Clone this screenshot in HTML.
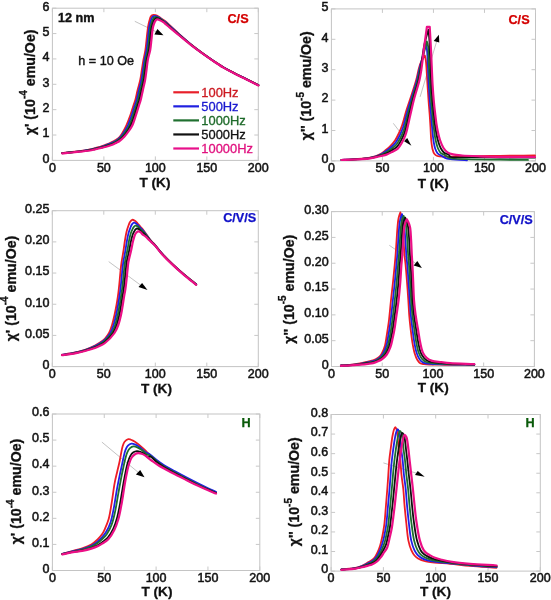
<!DOCTYPE html>
<html><head><meta charset="utf-8"><style>
html,body{margin:0;padding:0;background:#fff;}
svg{display:block;will-change:transform;filter:blur(0.3px);}
text{font-family:"Liberation Sans", sans-serif;}
.tl{font-size:12.5px;fill:#111;stroke:#111;stroke-width:0.5px;}
.ax{font-size:13.6px;font-weight:bold;fill:#111;stroke:#111;stroke-width:0.3px;}
.yl{font-size:14.2px;font-weight:bold;fill:#111;stroke:#111;stroke-width:0.3px;}
.sup{font-size:10px;}
.ann{font-size:12.6px;fill:#111;stroke:#111;stroke-width:0.4px;}
.tag{font-size:12.7px;font-weight:bold;}
.leg{font-size:12.9px;}
</style></head><body>
<svg width="551" height="600" viewBox="0 0 551 600">
<rect width="551" height="600" fill="#fff"/>
<rect x="52.4" y="8.2" width="205.9" height="152.2" fill="none" stroke="#c4c4c4" stroke-width="1"/>
<path d="M52.4 160.4v-4.0M52.4 8.2v4.0M103.88 160.4v-4.0M103.88 8.2v4.0M155.35 160.4v-4.0M155.35 8.2v4.0M206.83 160.4v-4.0M206.83 8.2v4.0M258.3 160.4v-4.0M258.3 8.2v4.0M52.4 160.4h4.0M258.3 160.4h-4.0M52.4 135.03h4.0M258.3 135.03h-4.0M52.4 109.67h4.0M258.3 109.67h-4.0M52.4 84.3h4.0M258.3 84.3h-4.0M52.4 58.93h4.0M258.3 58.93h-4.0M52.4 33.57h4.0M258.3 33.57h-4.0M52.4 8.2h4.0M258.3 8.2h-4.0" stroke="#c8c8c8" stroke-width="1" fill="none"/>
<text x="52.4" y="172.2" class="tl" text-anchor="middle">0</text>
<text x="103.88" y="172.2" class="tl" text-anchor="middle">50</text>
<text x="155.35" y="172.2" class="tl" text-anchor="middle">100</text>
<text x="206.83" y="172.2" class="tl" text-anchor="middle">150</text>
<text x="258.3" y="172.2" class="tl" text-anchor="middle">200</text>
<text x="49.5" y="162.7" class="tl" text-anchor="end">0</text>
<text x="49.5" y="137.33" class="tl" text-anchor="end">1</text>
<text x="49.5" y="111.97" class="tl" text-anchor="end">2</text>
<text x="49.5" y="86.6" class="tl" text-anchor="end">3</text>
<text x="49.5" y="61.23" class="tl" text-anchor="end">4</text>
<text x="49.5" y="35.87" class="tl" text-anchor="end">5</text>
<text x="49.5" y="10.5" class="tl" text-anchor="end">6</text>
<text x="155" y="187.4" class="ax" text-anchor="middle">T (K)</text>
<text transform="translate(34.5 82.3) rotate(-90)" class="yl" text-anchor="middle">χ' (10<tspan class="sup" dy="-7.5">-4</tspan><tspan dy="7.5"> emu/Oe)</tspan></text>
<rect x="331.4" y="8.9" width="204.1" height="152" fill="none" stroke="#c4c4c4" stroke-width="1"/>
<path d="M331.4 160.9v-4.0M331.4 8.9v4.0M382.42 160.9v-4.0M382.42 8.9v4.0M433.45 160.9v-4.0M433.45 8.9v4.0M484.48 160.9v-4.0M484.48 8.9v4.0M535.5 160.9v-4.0M535.5 8.9v4.0M331.4 160.9h4.0M535.5 160.9h-4.0M331.4 130.5h4.0M535.5 130.5h-4.0M331.4 100.1h4.0M535.5 100.1h-4.0M331.4 69.7h4.0M535.5 69.7h-4.0M331.4 39.3h4.0M535.5 39.3h-4.0M331.4 8.9h4.0M535.5 8.9h-4.0" stroke="#c8c8c8" stroke-width="1" fill="none"/>
<text x="331.4" y="171.8" class="tl" text-anchor="middle">0</text>
<text x="382.42" y="171.8" class="tl" text-anchor="middle">50</text>
<text x="433.45" y="171.8" class="tl" text-anchor="middle">100</text>
<text x="484.48" y="171.8" class="tl" text-anchor="middle">150</text>
<text x="535.5" y="171.8" class="tl" text-anchor="middle">200</text>
<text x="328.5" y="163.2" class="tl" text-anchor="end">0</text>
<text x="328.5" y="132.8" class="tl" text-anchor="end">1</text>
<text x="328.5" y="102.4" class="tl" text-anchor="end">2</text>
<text x="328.5" y="72" class="tl" text-anchor="end">3</text>
<text x="328.5" y="41.6" class="tl" text-anchor="end">4</text>
<text x="328.5" y="11.2" class="tl" text-anchor="end">5</text>
<text x="433.2" y="187.7" class="ax" text-anchor="middle">T (K)</text>
<text transform="translate(311 85.75) rotate(-90)" class="yl" text-anchor="middle">χ'' (10<tspan class="sup" dy="-7.5">-5</tspan><tspan dy="7.5"> emu/Oe)</tspan></text>
<rect x="52.3" y="210.7" width="206" height="155.9" fill="none" stroke="#c4c4c4" stroke-width="1"/>
<path d="M52.3 366.6v-4.0M52.3 210.7v4.0M103.8 366.6v-4.0M103.8 210.7v4.0M155.3 366.6v-4.0M155.3 210.7v4.0M206.8 366.6v-4.0M206.8 210.7v4.0M258.3 366.6v-4.0M258.3 210.7v4.0M52.3 366.6h4.0M258.3 366.6h-4.0M52.3 335.42h4.0M258.3 335.42h-4.0M52.3 304.24h4.0M258.3 304.24h-4.0M52.3 273.06h4.0M258.3 273.06h-4.0M52.3 241.88h4.0M258.3 241.88h-4.0M52.3 210.7h4.0M258.3 210.7h-4.0" stroke="#c8c8c8" stroke-width="1" fill="none"/>
<text x="52.3" y="378.4" class="tl" text-anchor="middle">0</text>
<text x="103.8" y="378.4" class="tl" text-anchor="middle">50</text>
<text x="155.3" y="378.4" class="tl" text-anchor="middle">100</text>
<text x="206.8" y="378.4" class="tl" text-anchor="middle">150</text>
<text x="258.3" y="378.4" class="tl" text-anchor="middle">200</text>
<text x="49.4" y="368.9" class="tl" text-anchor="end">0</text>
<text x="49.4" y="337.72" class="tl" text-anchor="end">0.05</text>
<text x="49.4" y="306.54" class="tl" text-anchor="end">0.10</text>
<text x="49.4" y="275.36" class="tl" text-anchor="end">0.15</text>
<text x="49.4" y="244.18" class="tl" text-anchor="end">0.20</text>
<text x="49.4" y="213" class="tl" text-anchor="end">0.25</text>
<text x="156.5" y="392.7" class="ax" text-anchor="middle">T (K)</text>
<text transform="translate(15.5 288.5) rotate(-90)" class="yl" text-anchor="middle">χ' (10<tspan class="sup" dy="-7.5">-4</tspan><tspan dy="7.5"> emu/Oe)</tspan></text>
<rect x="331.5" y="211.6" width="202.9" height="154.9" fill="none" stroke="#c4c4c4" stroke-width="1"/>
<path d="M331.5 366.5v-4.0M331.5 211.6v4.0M382.23 366.5v-4.0M382.23 211.6v4.0M432.95 366.5v-4.0M432.95 211.6v4.0M483.67 366.5v-4.0M483.67 211.6v4.0M534.4 366.5v-4.0M534.4 211.6v4.0M331.5 366.5h4.0M534.4 366.5h-4.0M331.5 340.68h4.0M534.4 340.68h-4.0M331.5 314.87h4.0M534.4 314.87h-4.0M331.5 289.05h4.0M534.4 289.05h-4.0M331.5 263.23h4.0M534.4 263.23h-4.0M331.5 237.42h4.0M534.4 237.42h-4.0M331.5 211.6h4.0M534.4 211.6h-4.0" stroke="#c8c8c8" stroke-width="1" fill="none"/>
<text x="331.5" y="377.6" class="tl" text-anchor="middle">0</text>
<text x="382.23" y="377.6" class="tl" text-anchor="middle">50</text>
<text x="432.95" y="377.6" class="tl" text-anchor="middle">100</text>
<text x="483.67" y="377.6" class="tl" text-anchor="middle">150</text>
<text x="534.4" y="377.6" class="tl" text-anchor="middle">200</text>
<text x="328.6" y="368.8" class="tl" text-anchor="end">0</text>
<text x="328.6" y="342.98" class="tl" text-anchor="end">0.05</text>
<text x="328.6" y="317.17" class="tl" text-anchor="end">0.10</text>
<text x="328.6" y="291.35" class="tl" text-anchor="end">0.15</text>
<text x="328.6" y="265.53" class="tl" text-anchor="end">0.20</text>
<text x="328.6" y="239.72" class="tl" text-anchor="end">0.25</text>
<text x="328.6" y="213.9" class="tl" text-anchor="end">0.30</text>
<text x="433.2" y="391.8" class="ax" text-anchor="middle">T (K)</text>
<text transform="translate(293.7 289.2) rotate(-90)" class="yl" text-anchor="middle">χ'' (10<tspan class="sup" dy="-7.5">-5</tspan><tspan dy="7.5"> emu/Oe)</tspan></text>
<rect x="52.4" y="414" width="207.4" height="156.5" fill="none" stroke="#c4c4c4" stroke-width="1"/>
<path d="M52.4 570.5v-4.0M52.4 414v4.0M104.25 570.5v-4.0M104.25 414v4.0M156.1 570.5v-4.0M156.1 414v4.0M207.95 570.5v-4.0M207.95 414v4.0M259.8 570.5v-4.0M259.8 414v4.0M52.4 570.5h4.0M259.8 570.5h-4.0M52.4 544.42h4.0M259.8 544.42h-4.0M52.4 518.33h4.0M259.8 518.33h-4.0M52.4 492.25h4.0M259.8 492.25h-4.0M52.4 466.17h4.0M259.8 466.17h-4.0M52.4 440.08h4.0M259.8 440.08h-4.0M52.4 414h4.0M259.8 414h-4.0" stroke="#c8c8c8" stroke-width="1" fill="none"/>
<text x="52.4" y="581.8" class="tl" text-anchor="middle">0</text>
<text x="104.25" y="581.8" class="tl" text-anchor="middle">50</text>
<text x="156.1" y="581.8" class="tl" text-anchor="middle">100</text>
<text x="207.95" y="581.8" class="tl" text-anchor="middle">150</text>
<text x="259.8" y="581.8" class="tl" text-anchor="middle">200</text>
<text x="49.5" y="572.8" class="tl" text-anchor="end">0</text>
<text x="49.5" y="546.72" class="tl" text-anchor="end">0.1</text>
<text x="49.5" y="520.63" class="tl" text-anchor="end">0.2</text>
<text x="49.5" y="494.55" class="tl" text-anchor="end">0.3</text>
<text x="49.5" y="468.47" class="tl" text-anchor="end">0.4</text>
<text x="49.5" y="442.38" class="tl" text-anchor="end">0.5</text>
<text x="49.5" y="416.3" class="tl" text-anchor="end">0.6</text>
<text x="157" y="596.3" class="ax" text-anchor="middle">T (K)</text>
<text transform="translate(21 491.5) rotate(-90)" class="yl" text-anchor="middle">χ' (10<tspan class="sup" dy="-7.5">-4</tspan><tspan dy="7.5"> emu/Oe)</tspan></text>
<rect x="331.1" y="414.5" width="209.2" height="156.6" fill="none" stroke="#c4c4c4" stroke-width="1"/>
<path d="M331.1 571.1v-4.0M331.1 414.5v4.0M383.4 571.1v-4.0M383.4 414.5v4.0M435.7 571.1v-4.0M435.7 414.5v4.0M488 571.1v-4.0M488 414.5v4.0M540.3 571.1v-4.0M540.3 414.5v4.0M331.1 571.1h4.0M540.3 571.1h-4.0M331.1 551.52h4.0M540.3 551.52h-4.0M331.1 531.95h4.0M540.3 531.95h-4.0M331.1 512.38h4.0M540.3 512.38h-4.0M331.1 492.8h4.0M540.3 492.8h-4.0M331.1 473.23h4.0M540.3 473.23h-4.0M331.1 453.65h4.0M540.3 453.65h-4.0M331.1 434.07h4.0M540.3 434.07h-4.0M331.1 414.5h4.0M540.3 414.5h-4.0" stroke="#c8c8c8" stroke-width="1" fill="none"/>
<text x="331.1" y="581.8" class="tl" text-anchor="middle">0</text>
<text x="383.4" y="581.8" class="tl" text-anchor="middle">50</text>
<text x="435.7" y="581.8" class="tl" text-anchor="middle">100</text>
<text x="488" y="581.8" class="tl" text-anchor="middle">150</text>
<text x="540.3" y="581.8" class="tl" text-anchor="middle">200</text>
<text x="328.2" y="573.4" class="tl" text-anchor="end">0</text>
<text x="328.2" y="553.82" class="tl" text-anchor="end">0.1</text>
<text x="328.2" y="534.25" class="tl" text-anchor="end">0.2</text>
<text x="328.2" y="514.67" class="tl" text-anchor="end">0.3</text>
<text x="328.2" y="495.1" class="tl" text-anchor="end">0.4</text>
<text x="328.2" y="475.53" class="tl" text-anchor="end">0.5</text>
<text x="328.2" y="455.95" class="tl" text-anchor="end">0.6</text>
<text x="328.2" y="436.38" class="tl" text-anchor="end">0.7</text>
<text x="328.2" y="416.8" class="tl" text-anchor="end">0.8</text>
<text x="435.5" y="595.6" class="ax" text-anchor="middle">T (K)</text>
<text transform="translate(299 491.75) rotate(-90)" class="yl" text-anchor="middle">χ'' (10<tspan class="sup" dy="-7.5">-5</tspan><tspan dy="7.5"> emu/Oe)</tspan></text>
<text x="58" y="22.3" class="ann" font-weight="bold">12 nm</text>
<text x="78.3" y="64.6" class="ann">h = 10 Oe</text>
<text x="248.6" y="23.4" class="tag" fill="#d40000" stroke="#d40000" stroke-width="0.25" text-anchor="end">C/S</text>
<text x="529.6" y="23.5" class="tag" fill="#d40000" stroke="#d40000" stroke-width="0.25" text-anchor="end">C/S</text>
<text x="256.3" y="222.4" class="tag" fill="#1010c8" stroke="#1010c8" stroke-width="0.25" text-anchor="end">C/V/S</text>
<text x="532.8" y="224.3" class="tag" fill="#1010c8" stroke="#1010c8" stroke-width="0.25" text-anchor="end">C/V/S</text>
<text x="250.6" y="427" class="tag" fill="#0a5a0a" stroke="#0a5a0a" stroke-width="0.25" text-anchor="end">H</text>
<text x="534.6" y="427.2" class="tag" fill="#0a5a0a" stroke="#0a5a0a" stroke-width="0.25" text-anchor="end">H</text>
<path d="M173.3 92.3H199" stroke="#e8202a" stroke-width="2.2"/>
<text x="201.3" y="96.9" class="leg" fill="#cc1a22" stroke="#cc1a22" stroke-width="0.3">100Hz</text>
<path d="M173.3 106.35H199" stroke="#2020e0" stroke-width="2.2"/>
<text x="201.3" y="110.95" class="leg" fill="#1a1ad0" stroke="#1a1ad0" stroke-width="0.3">500Hz</text>
<path d="M173.3 120.4H199" stroke="#207030" stroke-width="2.2"/>
<text x="201.3" y="125" class="leg" fill="#1e6a2a" stroke="#1e6a2a" stroke-width="0.3">1000Hz</text>
<path d="M173.3 134.45H199" stroke="#111111" stroke-width="2.2"/>
<text x="201.3" y="139.05" class="leg" fill="#111111" stroke="#111111" stroke-width="0.3">5000Hz</text>
<path d="M173.3 148.5H199" stroke="#e8108a" stroke-width="2.2"/>
<text x="201.3" y="153.1" class="leg" fill="#e0107e" stroke="#e0107e" stroke-width="0.3">10000Hz</text>
<path d="M134.8 21.3L157.2 32.3" stroke="#b4b4b4" stroke-width="0.8" fill="none"/>
<path d="M420.1 96.9L436.9 40.6" stroke="#b4b4b4" stroke-width="0.8" fill="none"/>
<path d="M393.3 123.3L406.6 140.7" stroke="#b4b4b4" stroke-width="0.8" fill="none"/>
<path d="M108.7 261.6L141.5 285.8" stroke="#b4b4b4" stroke-width="0.8" fill="none"/>
<path d="M389.3 245.3L416.6 264.0" stroke="#b4b4b4" stroke-width="0.8" fill="none"/>
<path d="M101.9 442.1L139.1 473.1" stroke="#b4b4b4" stroke-width="0.8" fill="none"/>
<path d="M383.4 462.9L417.7 473.6" stroke="#b4b4b4" stroke-width="0.8" fill="none"/>
<path d="M62.20 153.00C65.47 152.67 68.66 152.39 72.00 152.00C75.49 151.59 79.48 151.10 82.70 150.60C85.37 150.19 87.80 149.76 90.00 149.30C91.83 148.92 93.33 148.50 95.00 148.10C96.67 147.70 98.28 147.42 100.00 146.90C101.90 146.32 104.12 145.40 105.90 144.70C107.40 144.11 108.65 143.62 110.00 143.00C111.35 142.38 112.83 141.62 114.00 141.00C114.94 140.50 115.66 140.19 116.50 139.60C117.49 138.90 118.63 137.92 119.50 137.00C120.31 136.15 120.93 135.30 121.60 134.30C122.34 133.19 122.97 131.97 123.70 130.60C124.59 128.94 125.54 127.16 126.50 125.00C127.76 122.17 129.21 118.35 130.40 115.00C131.58 111.68 132.69 107.76 133.60 105.00C134.25 103.04 134.74 101.97 135.30 100.00C136.08 97.25 136.78 93.33 137.60 90.00C138.42 86.66 139.50 83.35 140.20 80.00C140.89 76.68 141.27 73.33 141.80 70.00C142.33 66.67 142.80 63.33 143.40 60.00C144.00 56.66 144.88 53.34 145.40 50.00C145.91 46.68 146.13 43.33 146.50 40.00C146.87 36.67 147.20 32.91 147.60 30.00C147.91 27.74 148.23 25.79 148.60 24.00C148.91 22.53 149.23 21.25 149.60 20.00C149.94 18.87 150.22 17.63 150.70 16.80C151.07 16.16 151.49 15.63 152.00 15.30C152.47 14.99 153.04 14.84 153.60 14.80C154.20 14.76 154.81 14.89 155.50 15.10C156.40 15.38 157.49 15.90 158.50 16.50C159.66 17.19 160.78 18.24 162.00 19.10C163.28 20.01 164.64 20.71 166.00 21.80C167.62 23.10 169.09 24.72 171.00 26.50C173.56 28.88 176.77 31.92 180.00 34.80C183.64 38.05 187.96 41.88 191.80 45.00C195.28 47.83 198.54 50.27 202.00 52.80C205.47 55.34 209.07 57.81 212.60 60.20C216.07 62.54 219.48 64.91 223.00 67.00C226.45 69.04 229.83 70.71 233.50 72.60C237.47 74.64 241.84 76.73 246.00 78.80C250.14 80.86 254.27 82.93 258.40 85.00" stroke="#ee1c25" stroke-width="1.8" fill="none" stroke-linejoin="round" stroke-linecap="round"/><path d="M62.20 153.07C65.47 152.76 68.66 152.50 72.00 152.12C75.49 151.74 79.48 151.24 82.70 150.78C85.37 150.39 87.80 150.03 90.00 149.60C91.83 149.24 93.33 148.82 95.00 148.43C96.67 148.03 98.28 147.75 100.00 147.25C101.90 146.70 104.12 145.85 105.90 145.20C107.40 144.65 108.65 144.20 110.00 143.62C111.35 143.05 112.83 142.34 114.00 141.75C114.94 141.27 115.65 140.94 116.50 140.38C117.48 139.72 118.55 138.89 119.50 138.00C120.50 137.06 121.43 136.03 122.32 134.85C123.32 133.54 124.24 132.02 125.15 130.45C126.14 128.75 127.05 127.12 128.00 125.00C129.26 122.20 130.63 118.35 131.80 115.00C132.96 111.68 134.08 107.76 134.97 105.00C135.61 103.04 136.10 101.97 136.65 100.00C137.42 97.25 138.13 93.33 138.93 90.00C139.72 86.66 140.75 83.35 141.42 80.00C142.10 76.68 142.46 73.33 142.98 70.00C143.49 66.67 143.90 63.32 144.50 60.00C145.11 56.66 146.06 53.35 146.60 50.00C147.13 46.68 147.35 43.33 147.72 40.00C148.10 36.67 148.42 32.83 148.82 30.00C149.12 27.89 149.40 26.18 149.78 24.50C150.10 23.05 150.48 21.71 150.88 20.50C151.22 19.46 151.52 18.38 151.97 17.65C152.32 17.09 152.71 16.64 153.18 16.35C153.60 16.09 154.08 15.94 154.60 15.93C155.21 15.90 155.90 16.12 156.62 16.38C157.57 16.71 158.71 17.29 159.72 17.93C160.83 18.62 161.87 19.60 163.00 20.43C164.17 21.28 165.39 21.98 166.62 22.98C168.05 24.13 169.27 25.45 171.00 27.02C173.46 29.26 176.78 32.28 180.00 35.10C183.65 38.29 187.97 42.07 191.80 45.15C195.28 47.95 198.54 50.38 202.00 52.90C205.47 55.43 209.07 57.91 212.60 60.30C216.07 62.64 219.48 65.01 223.00 67.10C226.45 69.14 229.83 70.81 233.50 72.70C237.47 74.74 241.84 76.83 246.00 78.90C250.14 80.96 254.27 83.03 258.40 85.10" stroke="#1f1fe6" stroke-width="1.8" fill="none" stroke-linejoin="round" stroke-linecap="round"/><path d="M62.20 153.15C65.47 152.85 68.66 152.61 72.00 152.25C75.49 151.88 79.48 151.38 82.70 150.95C85.37 150.60 87.80 150.31 90.00 149.90C91.83 149.56 93.33 149.13 95.00 148.75C96.67 148.37 98.27 148.08 100.00 147.60C101.90 147.08 104.12 146.30 105.90 145.70C107.39 145.20 108.65 144.78 110.00 144.25C111.35 143.72 112.83 143.07 114.00 142.50C114.94 142.04 115.65 141.68 116.50 141.15C117.47 140.54 118.49 139.86 119.50 139.00C120.68 137.99 121.92 136.76 123.05 135.40C124.30 133.89 125.52 132.05 126.60 130.30C127.67 128.58 128.55 127.09 129.50 125.00C130.76 122.23 132.05 118.35 133.20 115.00C134.34 111.68 135.46 107.76 136.35 105.00C136.98 103.04 137.46 101.97 138.00 100.00C138.76 97.25 139.48 93.33 140.25 90.00C141.03 86.66 142.00 83.35 142.65 80.00C143.30 76.68 143.66 73.33 144.15 70.00C144.64 66.67 144.99 63.32 145.60 60.00C146.21 56.66 147.24 53.35 147.80 50.00C148.35 46.68 148.57 43.33 148.95 40.00C149.32 36.67 149.65 32.76 150.05 30.00C150.33 28.04 150.58 26.56 150.95 25.00C151.29 23.58 151.72 22.17 152.15 21.00C152.50 20.06 152.82 19.14 153.25 18.50C153.58 18.02 153.94 17.64 154.35 17.40C154.73 17.18 155.13 17.05 155.60 17.05C156.22 17.05 156.98 17.34 157.75 17.65C158.73 18.04 159.92 18.68 160.95 19.35C162.01 20.04 162.96 20.96 164.00 21.75C165.06 22.56 166.15 23.25 167.25 24.15C168.48 25.16 169.47 26.19 171.00 27.55C173.35 29.64 176.78 32.65 180.00 35.40C183.65 38.53 187.97 42.25 191.80 45.30C195.29 48.08 198.54 50.49 202.00 53.00C205.48 55.52 209.07 58.01 212.60 60.40C216.07 62.74 219.48 65.11 223.00 67.20C226.45 69.24 229.83 70.91 233.50 72.80C237.47 74.84 241.84 76.93 246.00 79.00C250.14 81.06 254.27 83.13 258.40 85.20" stroke="#1d6f2d" stroke-width="1.8" fill="none" stroke-linejoin="round" stroke-linecap="round"/><path d="M62.20 153.23C65.47 152.94 68.66 152.71 72.00 152.38C75.49 152.02 79.47 151.52 82.70 151.12C85.37 150.80 87.80 150.59 90.00 150.20C91.83 149.88 93.33 149.45 95.00 149.07C96.67 148.70 98.27 148.40 100.00 147.95C101.89 147.46 104.11 146.75 105.90 146.20C107.39 145.74 108.65 145.37 110.00 144.88C111.35 144.38 112.83 143.79 114.00 143.25C114.94 142.81 115.64 142.43 116.50 141.92C117.47 141.36 118.45 140.82 119.50 140.00C120.85 138.95 122.41 137.49 123.78 135.95C125.28 134.25 126.80 132.06 128.05 130.15C129.18 128.42 130.05 127.05 131.00 125.00C132.27 122.26 133.48 118.35 134.60 115.00C135.72 111.68 136.85 107.76 137.72 105.00C138.35 103.05 138.81 101.97 139.35 100.00C140.10 97.25 140.82 93.33 141.57 90.00C142.33 86.67 143.25 83.35 143.88 80.00C144.50 76.68 144.85 73.33 145.32 70.00C145.80 66.67 146.09 63.32 146.70 60.00C147.31 56.65 148.42 53.35 149.00 50.00C149.57 46.68 149.80 43.33 150.18 40.00C150.55 36.67 150.88 32.67 151.28 30.00C151.54 28.20 151.76 26.94 152.12 25.50C152.48 24.12 152.96 22.61 153.42 21.50C153.78 20.66 154.11 19.89 154.53 19.35C154.83 18.95 155.16 18.65 155.52 18.45C155.86 18.27 156.18 18.16 156.60 18.18C157.22 18.20 158.06 18.57 158.88 18.93C159.89 19.37 161.15 20.08 162.18 20.77C163.18 21.46 164.05 22.32 165.00 23.07C165.95 23.83 166.91 24.52 167.88 25.32C168.91 26.18 169.68 26.94 171.00 28.08C173.22 29.99 176.79 33.01 180.00 35.70C183.66 38.76 187.98 42.44 191.80 45.45C195.29 48.20 198.55 50.60 202.00 53.10C205.48 55.62 209.07 58.11 212.60 60.50C216.07 62.84 219.48 65.21 223.00 67.30C226.45 69.34 229.83 71.01 233.50 72.90C237.47 74.94 241.84 77.03 246.00 79.10C250.14 81.16 254.27 83.23 258.40 85.30" stroke="#101010" stroke-width="1.8" fill="none" stroke-linejoin="round" stroke-linecap="round"/><path d="M62.20 153.30C65.47 153.03 68.66 152.82 72.00 152.50C75.49 152.16 79.47 151.66 82.70 151.30C85.37 151.00 87.80 150.86 90.00 150.50C91.83 150.20 93.33 149.77 95.00 149.40C96.67 149.03 98.27 148.72 100.00 148.30C101.89 147.84 104.11 147.20 105.90 146.70C107.39 146.28 108.65 145.95 110.00 145.50C111.35 145.05 112.84 144.52 114.00 144.00C114.95 143.58 115.63 143.17 116.50 142.70C117.46 142.18 118.42 141.78 119.50 141.00C121.01 139.91 122.91 138.22 124.50 136.50C126.26 134.60 128.09 132.06 129.50 130.00C130.69 128.26 131.56 127.01 132.50 125.00C133.77 122.29 134.90 118.34 136.00 115.00C137.10 111.68 138.23 107.76 139.10 105.00C139.72 103.05 140.17 101.97 140.70 100.00C141.44 97.25 142.17 93.33 142.90 90.00C143.63 86.67 144.50 83.35 145.10 80.00C145.70 76.68 146.05 73.33 146.50 70.00C146.95 66.67 147.19 63.32 147.80 60.00C148.42 56.65 149.60 53.35 150.20 50.00C150.79 46.68 151.02 43.33 151.40 40.00C151.78 36.67 152.10 32.58 152.50 30.00C152.75 28.36 152.94 27.32 153.30 26.00C153.67 24.65 154.20 23.05 154.70 22.00C155.05 21.26 155.41 20.64 155.80 20.20C156.09 19.88 156.38 19.65 156.70 19.50C156.99 19.37 157.23 19.27 157.60 19.30C158.21 19.34 159.15 19.79 160.00 20.20C161.06 20.70 162.37 21.47 163.40 22.20C164.36 22.88 165.14 23.68 166.00 24.40C166.84 25.11 167.67 25.80 168.50 26.50C169.33 27.20 169.91 27.69 171.00 28.60C173.07 30.32 176.79 33.38 180.00 36.00C183.66 39.00 187.98 42.62 191.80 45.60C195.29 48.32 198.55 50.71 202.00 53.20C205.48 55.71 209.07 58.21 212.60 60.60C216.07 62.94 219.48 65.31 223.00 67.40C226.45 69.44 229.83 71.11 233.50 73.00C237.47 75.04 241.84 77.13 246.00 79.20C250.14 81.26 254.27 83.33 258.40 85.40" stroke="#ec0f86" stroke-width="2.2" fill="none" stroke-linejoin="round" stroke-linecap="round"/>
<path d="M341.50 159.80C345.00 159.67 348.54 159.59 352.00 159.40C355.38 159.22 358.86 159.03 362.00 158.70C364.82 158.41 367.54 158.10 370.00 157.60C372.16 157.17 374.12 156.66 376.00 156.00C377.77 155.38 379.48 154.72 381.00 153.80C382.47 152.91 383.60 151.76 385.00 150.60C386.58 149.29 388.39 147.92 390.00 146.30C391.74 144.55 393.52 142.56 395.00 140.40C396.54 138.15 397.81 135.55 399.00 133.00C400.21 130.42 401.13 128.11 402.20 125.00C403.63 120.81 404.96 114.98 406.50 110.00C408.05 104.98 409.88 100.01 411.50 95.00C413.11 90.01 414.91 84.74 416.20 80.00C417.35 75.80 417.99 71.44 419.00 68.00C419.79 65.33 420.49 63.16 421.50 61.00C422.45 58.98 424.80 55.40 424.80 55.40C424.80 55.40 425.53 58.16 425.80 60.00C426.20 62.68 426.34 66.33 426.60 70.00C426.91 74.49 427.18 80.00 427.50 85.00C427.82 90.00 428.13 95.00 428.50 100.00C428.87 105.00 429.36 110.23 429.70 115.00C430.01 119.36 430.25 123.33 430.50 127.50C430.75 131.67 430.82 136.18 431.20 140.00C431.53 143.25 431.86 146.50 432.50 149.00C432.98 150.88 433.39 152.60 434.30 153.80C435.08 154.82 435.98 155.51 437.30 156.00C439.20 156.71 441.77 156.50 445.00 156.60C450.45 156.77 458.93 156.42 467.00 156.30C476.89 156.16 488.84 155.93 500.00 155.80C511.49 155.66 523.33 155.60 535.00 155.50" stroke="#ee1c25" stroke-width="1.8" fill="none" stroke-linejoin="round" stroke-linecap="round"/><path d="M341.50 159.85C345.00 159.73 348.54 159.65 352.00 159.47C355.38 159.30 358.86 159.11 362.00 158.80C364.82 158.52 367.54 158.23 370.00 157.78C372.16 157.37 374.11 156.90 376.00 156.30C377.76 155.74 379.42 155.14 381.00 154.35C382.55 153.57 383.88 152.63 385.38 151.60C387.04 150.45 388.84 149.18 390.50 147.73C392.29 146.16 394.18 144.45 395.70 142.45C397.29 140.35 398.54 137.84 399.75 135.38C400.99 132.86 401.95 130.64 403.02 127.50C404.53 123.09 405.91 116.55 407.45 111.25C408.93 106.14 410.51 101.35 412.07 96.25C413.70 90.94 415.72 84.97 417.02 80.00C418.11 75.86 418.58 72.67 419.57 68.50C420.77 63.49 422.66 56.55 423.80 52.00C424.60 48.80 425.80 43.80 425.80 43.80C425.80 43.80 426.71 47.68 427.00 50.00C427.37 52.93 427.38 55.92 427.60 60.00C427.95 66.46 428.36 77.73 428.77 85.00C429.10 90.64 429.41 95.00 429.80 100.00C430.19 105.00 430.70 110.23 431.10 115.00C431.47 119.36 431.74 123.34 432.12 127.50C432.51 131.67 432.81 136.22 433.40 140.00C433.90 143.19 434.40 146.33 435.25 148.75C435.90 150.60 436.52 152.26 437.60 153.43C438.57 154.47 439.86 154.84 441.23 155.60C442.91 156.54 444.61 157.90 447.00 158.60C450.39 159.60 456.33 159.47 460.00 159.80C462.69 160.04 464.67 160.20 467.00 160.40" stroke="#1f1fe6" stroke-width="1.8" fill="none" stroke-linejoin="round" stroke-linecap="round"/><path d="M341.50 159.90C345.00 159.78 348.54 159.72 352.00 159.55C355.38 159.38 358.86 159.19 362.00 158.90C364.82 158.64 367.53 158.37 370.00 157.95C372.15 157.58 374.10 157.13 376.00 156.60C377.76 156.11 379.37 155.57 381.00 154.90C382.62 154.23 384.16 153.50 385.75 152.60C387.49 151.61 389.28 150.45 391.00 149.15C392.83 147.77 394.84 146.34 396.40 144.50C398.04 142.57 399.27 140.12 400.50 137.75C401.77 135.30 402.77 133.15 403.85 130.00C405.44 125.39 406.88 118.10 408.40 112.50C409.81 107.30 411.14 102.69 412.65 97.50C414.28 91.89 416.54 85.18 417.85 80.00C418.88 75.93 419.23 73.16 420.15 69.00C421.36 63.52 423.36 55.11 424.60 50.00C425.44 46.54 426.80 41.30 426.80 41.30C426.80 41.30 427.88 44.69 428.20 47.00C428.67 50.43 428.38 54.97 428.60 60.00C428.91 66.98 429.58 77.73 430.05 85.00C430.41 90.64 430.69 95.00 431.10 100.00C431.51 105.00 432.04 110.23 432.50 115.00C432.92 119.36 433.23 123.34 433.75 127.50C434.27 131.67 434.80 136.26 435.60 140.00C436.27 143.13 436.95 146.17 438.00 148.50C438.82 150.32 439.65 151.92 440.90 153.05C442.07 154.11 443.70 154.41 445.15 155.20C446.72 156.05 447.79 157.32 450.00 158.00C453.86 159.18 460.40 158.92 467.00 159.20C476.19 159.59 489.45 159.58 500.00 159.70C509.72 159.81 518.67 159.83 528.00 159.90" stroke="#1d6f2d" stroke-width="1.8" fill="none" stroke-linejoin="round" stroke-linecap="round"/><path d="M341.50 159.95C345.00 159.84 348.54 159.79 352.00 159.62C355.38 159.47 358.86 159.27 362.00 159.00C364.82 158.76 367.53 158.51 370.00 158.12C372.15 157.79 374.10 157.37 376.00 156.90C377.75 156.47 379.33 155.99 381.00 155.45C382.71 154.90 384.43 154.38 386.12 153.60C387.93 152.77 389.72 151.71 391.50 150.57C393.38 149.37 395.50 148.23 397.10 146.55C398.78 144.78 400.01 142.41 401.25 140.12C402.55 137.74 403.58 135.66 404.68 132.50C406.34 127.69 407.85 119.65 409.35 113.75C410.69 108.47 411.78 104.02 413.23 98.75C414.85 92.84 417.37 85.38 418.68 80.00C419.64 76.02 420.00 73.74 420.73 69.50C421.82 63.05 422.80 52.18 424.30 45.00C425.50 39.23 428.50 29.60 428.50 29.60C428.50 29.60 429.16 36.21 429.40 40.00C429.69 44.54 429.75 49.14 430.00 55.00C430.35 63.28 430.85 76.72 431.33 85.00C431.66 90.86 431.97 95.00 432.40 100.00C432.83 105.00 433.38 110.23 433.90 115.00C434.38 119.36 434.73 123.35 435.38 127.50C436.03 131.68 436.79 136.30 437.80 140.00C438.64 143.07 439.51 146.00 440.75 148.25C441.74 150.05 442.79 151.58 444.20 152.68C445.58 153.74 448.15 153.89 449.07 154.80C449.67 155.38 449.23 156.30 450.00 156.80C452.13 158.20 460.40 157.09 467.00 157.20C476.19 157.35 488.84 157.43 500.00 157.50C511.49 157.57 523.33 157.57 535.00 157.60" stroke="#101010" stroke-width="1.8" fill="none" stroke-linejoin="round" stroke-linecap="round"/><path d="M341.50 160.00C345.00 159.90 348.54 159.85 352.00 159.70C355.38 159.55 358.85 159.35 362.00 159.10C364.82 158.87 367.53 158.65 370.00 158.30C372.15 158.00 374.10 157.60 376.00 157.20C377.75 156.83 379.30 156.42 381.00 156.00C382.79 155.56 384.70 155.25 386.50 154.60C388.37 153.93 390.16 152.97 392.00 152.00C393.93 150.98 396.16 150.13 397.80 148.60C399.52 147.00 400.74 144.69 402.00 142.50C403.33 140.18 404.39 138.17 405.50 135.00C407.25 130.00 408.84 121.19 410.30 115.00C411.57 109.64 412.42 105.34 413.80 100.00C415.41 93.79 418.21 85.55 419.50 80.00C420.40 76.12 420.70 73.91 421.30 70.00C422.14 64.49 422.91 56.91 423.80 50.00C424.76 42.55 426.90 26.80 426.90 26.80C426.90 26.80 429.70 26.80 429.70 26.80C429.70 26.80 430.57 41.47 431.00 50.00C431.53 60.47 432.05 75.77 432.60 85.00C432.96 91.05 433.25 95.00 433.70 100.00C434.15 105.00 434.72 110.23 435.30 115.00C435.83 119.36 436.22 123.35 437.00 127.50C437.79 131.69 438.77 136.34 440.00 140.00C441.01 143.01 442.08 145.84 443.50 148.00C444.66 149.77 445.92 151.23 447.50 152.30C449.08 153.37 450.91 153.88 453.00 154.40C455.60 155.04 458.48 155.21 462.00 155.50C466.96 155.91 473.51 156.09 480.00 156.30C487.65 156.55 496.29 156.68 505.00 156.80C514.54 156.93 525.00 156.93 535.00 157.00" stroke="#ec0f86" stroke-width="2.2" fill="none" stroke-linejoin="round" stroke-linecap="round"/>
<path d="M62.00 354.70C64.67 354.30 67.41 353.98 70.00 353.50C72.47 353.04 74.76 352.50 77.20 351.90C79.75 351.27 82.27 350.75 85.00 349.80C88.16 348.70 92.28 346.89 95.00 345.50C96.99 344.48 98.37 343.63 100.00 342.50C101.71 341.31 103.52 340.05 105.00 338.50C106.53 336.90 107.87 335.09 109.00 333.00C110.26 330.66 111.11 327.84 112.00 325.00C112.97 321.88 113.75 318.34 114.50 315.00C115.25 311.68 115.93 308.15 116.50 305.00C117.01 302.19 117.42 299.67 117.80 297.00C118.18 294.34 118.49 291.75 118.80 289.00C119.13 286.09 119.41 283.08 119.70 280.00C120.01 276.76 120.26 273.14 120.60 270.00C120.90 267.18 121.17 264.93 121.60 262.00C122.12 258.40 123.01 253.82 123.60 250.00C124.13 246.52 124.49 243.14 125.00 240.00C125.46 237.18 125.90 234.46 126.50 232.00C127.02 229.84 127.66 227.78 128.30 226.00C128.84 224.52 129.27 223.08 130.00 222.00C130.62 221.09 131.39 220.00 132.20 219.80C132.91 219.62 133.73 220.06 134.50 220.50C135.50 221.08 136.53 222.29 137.50 223.30C138.53 224.38 139.50 225.63 140.50 226.80C141.50 227.97 142.32 228.79 143.50 230.30C145.47 232.81 148.70 238.07 150.90 240.70C152.39 242.48 153.50 243.23 155.00 244.90C157.03 247.16 159.19 250.30 161.80 253.20C164.94 256.68 169.01 260.70 172.70 264.20C176.28 267.59 179.80 270.67 183.60 273.90C187.61 277.30 192.00 280.70 196.20 284.10" stroke="#ee1c25" stroke-width="1.8" fill="none" stroke-linejoin="round" stroke-linecap="round"/><path d="M62.00 354.82C64.67 354.44 67.41 354.13 70.00 353.68C72.47 353.24 74.76 352.73 77.20 352.15C79.76 351.54 82.27 351.00 85.00 350.10C88.16 349.06 92.27 347.42 95.00 346.12C96.99 345.18 98.37 344.38 100.00 343.32C101.70 342.22 103.40 341.16 105.00 339.62C106.88 337.83 108.95 335.43 110.38 333.00C111.81 330.56 112.65 327.85 113.58 325.00C114.59 321.88 115.38 318.34 116.12 315.00C116.87 311.68 117.50 308.15 118.06 305.00C118.56 302.19 118.95 299.67 119.35 297.00C119.75 294.34 120.12 291.75 120.45 289.00C120.80 286.09 121.10 283.08 121.40 280.00C121.72 276.76 121.99 273.15 122.32 270.00C122.63 267.18 122.85 264.93 123.30 262.00C123.85 258.40 124.85 253.82 125.50 250.00C126.09 246.52 126.50 243.09 127.08 240.00C127.58 237.31 128.07 234.72 128.70 232.50C129.22 230.66 129.83 229.00 130.43 227.55C130.91 226.37 131.30 225.24 131.93 224.40C132.46 223.68 133.10 222.85 133.80 222.70C134.47 222.56 135.27 222.99 136.00 223.43C136.93 223.98 137.82 225.12 138.75 226.05C139.74 227.04 140.77 228.13 141.75 229.20C142.73 230.27 143.50 231.08 144.62 232.45C146.40 234.63 149.22 238.89 151.18 241.17C152.56 242.79 153.58 243.49 155.00 245.07C156.99 247.29 159.19 250.48 161.80 253.38C164.94 256.85 169.01 260.88 172.70 264.38C176.28 267.77 179.80 270.85 183.60 274.07C187.61 277.48 192.00 280.88 196.20 284.28" stroke="#1f1fe6" stroke-width="1.8" fill="none" stroke-linejoin="round" stroke-linecap="round"/><path d="M62.00 354.95C64.67 354.58 67.41 354.29 70.00 353.85C72.47 353.43 74.76 352.96 77.20 352.40C79.76 351.82 82.26 351.25 85.00 350.40C88.15 349.42 92.27 347.95 95.00 346.75C96.99 345.88 98.36 345.13 100.00 344.15C101.70 343.14 103.31 342.25 105.00 340.75C107.21 338.79 110.03 335.75 111.75 333.00C113.33 330.47 114.18 327.85 115.15 325.00C116.21 321.89 117.00 318.35 117.75 315.00C118.49 311.68 119.08 308.15 119.62 305.00C120.11 302.19 120.49 299.67 120.90 297.00C121.31 294.33 121.74 291.75 122.10 289.00C122.48 286.09 122.78 283.08 123.10 280.00C123.43 276.76 123.71 273.15 124.05 270.00C124.35 267.18 124.53 264.93 125.00 262.00C125.57 258.39 126.68 253.82 127.40 250.00C128.05 246.52 128.51 243.03 129.15 240.00C129.69 237.45 130.24 234.97 130.90 233.00C131.41 231.49 132.00 230.22 132.55 229.10C132.98 228.22 133.33 227.40 133.85 226.80C134.30 226.28 134.82 225.69 135.40 225.60C136.02 225.50 136.82 225.92 137.50 226.35C138.36 226.89 139.12 227.96 140.00 228.80C140.95 229.71 142.04 230.63 143.00 231.60C143.96 232.56 144.69 233.37 145.75 234.60C147.33 236.44 149.73 239.73 151.45 241.65C152.73 243.09 153.67 243.77 155.00 245.25C156.94 247.41 159.19 250.65 161.80 253.55C164.94 257.03 169.01 261.05 172.70 264.55C176.28 267.94 179.80 271.02 183.60 274.25C187.61 277.65 192.00 281.05 196.20 284.45" stroke="#1d6f2d" stroke-width="1.8" fill="none" stroke-linejoin="round" stroke-linecap="round"/><path d="M62.00 355.07C64.67 354.73 67.41 354.44 70.00 354.02C72.47 353.63 74.76 353.19 77.20 352.65C79.76 352.09 82.25 351.50 85.00 350.70C88.14 349.79 92.27 348.48 95.00 347.38C96.98 346.57 98.36 345.88 100.00 344.98C101.69 344.05 103.24 343.33 105.00 341.88C107.52 339.79 111.12 336.05 113.12 333.00C114.84 330.40 115.71 327.86 116.72 325.00C117.83 321.89 118.63 318.35 119.38 315.00C120.11 311.68 120.65 308.15 121.19 305.00C121.66 302.19 122.02 299.67 122.45 297.00C122.88 294.33 123.37 291.75 123.75 289.00C124.16 286.09 124.47 283.08 124.80 280.00C125.15 276.76 125.44 273.15 125.78 270.00C126.08 267.18 126.22 264.92 126.70 262.00C127.30 258.39 128.52 253.82 129.30 250.00C130.01 246.52 130.51 242.96 131.23 240.00C131.80 237.59 132.40 235.20 133.10 233.50C133.59 232.32 134.17 231.43 134.68 230.65C135.05 230.07 135.36 229.57 135.77 229.20C136.14 228.88 136.53 228.54 137.00 228.50C137.58 228.46 138.36 228.85 139.00 229.27C139.79 229.79 140.42 230.80 141.25 231.55C142.16 232.38 143.31 233.13 144.25 234.00C145.18 234.86 145.88 235.67 146.88 236.75C148.25 238.24 150.25 240.57 151.72 242.12C152.91 243.37 153.75 244.04 155.00 245.43C156.90 247.53 159.19 250.83 161.80 253.72C164.94 257.20 169.01 261.23 172.70 264.72C176.28 268.12 179.80 271.20 183.60 274.43C187.61 277.83 192.00 281.23 196.20 284.62" stroke="#101010" stroke-width="1.8" fill="none" stroke-linejoin="round" stroke-linecap="round"/><path d="M62.00 355.20C64.67 354.87 67.41 354.60 70.00 354.20C72.47 353.82 74.76 353.42 77.20 352.90C79.76 352.36 82.25 351.75 85.00 351.00C88.14 350.15 92.26 349.01 95.00 348.00C96.98 347.27 98.35 346.62 100.00 345.80C101.69 344.96 103.19 344.41 105.00 343.00C107.81 340.81 112.21 336.33 114.50 333.00C116.33 330.33 117.24 327.87 118.30 325.00C119.44 321.90 120.26 318.35 121.00 315.00C121.74 311.68 122.23 308.15 122.75 305.00C123.22 302.19 123.56 299.66 124.00 297.00C124.44 294.33 124.99 291.75 125.40 289.00C125.83 286.09 126.16 283.08 126.50 280.00C126.86 276.76 127.17 273.15 127.50 270.00C127.80 267.18 127.90 264.92 128.40 262.00C129.02 258.39 130.35 253.82 131.20 250.00C131.97 246.52 132.52 242.89 133.30 240.00C133.92 237.73 134.54 235.37 135.30 234.00C135.76 233.17 136.33 232.62 136.80 232.20C137.12 231.92 137.39 231.73 137.70 231.60C137.99 231.48 138.25 231.37 138.60 231.40C139.12 231.45 139.90 231.79 140.50 232.20C141.21 232.69 141.73 233.64 142.50 234.30C143.37 235.05 144.58 235.63 145.50 236.40C146.41 237.16 147.06 238.00 148.00 238.90C149.17 240.02 150.77 241.42 152.00 242.60C153.08 243.64 153.84 244.31 155.00 245.60C156.85 247.64 159.19 251.00 161.80 253.90C164.94 257.38 169.01 261.40 172.70 264.90C176.28 268.29 179.80 271.37 183.60 274.60C187.61 278.00 192.00 281.40 196.20 284.80" stroke="#ec0f86" stroke-width="2.2" fill="none" stroke-linejoin="round" stroke-linecap="round"/>
<path d="M340.90 365.40C343.93 365.23 346.90 365.20 350.00 364.90C353.26 364.58 356.87 364.09 360.00 363.50C362.83 362.97 365.63 362.16 368.00 361.60C369.89 361.15 371.48 360.99 373.10 360.40C374.71 359.82 376.41 358.99 377.70 358.10C378.81 357.33 379.73 356.44 380.50 355.50C381.21 354.63 381.62 353.89 382.20 352.70C383.10 350.87 384.31 347.87 385.00 345.40C385.67 343.00 385.87 340.66 386.30 338.10C386.77 335.26 387.25 332.11 387.70 329.10C388.15 326.08 388.56 323.63 389.00 320.00C389.65 314.63 390.32 306.49 391.00 300.00C391.65 293.84 392.38 287.92 393.00 282.00C393.61 276.25 394.23 269.92 394.70 265.00C395.06 261.23 395.31 258.67 395.60 255.00C395.95 250.51 396.27 244.82 396.60 240.00C396.90 235.51 397.12 230.93 397.50 227.00C397.81 223.72 398.02 220.62 398.60 218.00C399.06 215.89 400.40 212.40 400.40 212.40C400.40 212.40 401.28 215.90 401.60 218.00C402.00 220.64 402.12 223.72 402.40 227.00C402.74 230.94 403.16 235.51 403.50 240.00C403.86 244.82 404.10 250.51 404.50 255.00C404.82 258.67 405.24 261.22 405.60 265.00C406.07 269.92 406.56 276.25 407.00 282.00C407.46 287.91 407.92 294.27 408.30 300.00C408.65 305.23 408.81 310.11 409.20 315.00C409.58 319.70 410.07 324.21 410.60 328.80C411.13 333.38 411.67 338.20 412.40 342.50C413.06 346.38 413.73 350.35 414.70 353.50C415.47 355.99 416.33 358.28 417.40 360.00C418.23 361.34 419.08 362.52 420.20 363.20C421.26 363.84 422.14 363.86 423.90 364.10C428.03 364.67 437.39 364.65 445.00 364.80C453.97 364.98 464.53 364.93 474.30 365.00" stroke="#ee1c25" stroke-width="1.8" fill="none" stroke-linejoin="round" stroke-linecap="round"/><path d="M340.90 365.50C343.93 365.34 346.90 365.30 350.00 365.02C353.26 364.74 356.86 364.29 360.00 363.77C362.82 363.31 365.63 362.64 368.00 362.15C369.89 361.76 371.47 361.62 373.10 361.07C374.72 360.53 376.41 359.75 377.77 358.90C378.98 358.15 380.00 357.33 380.93 356.38C381.85 355.42 382.58 354.50 383.35 353.15C384.43 351.26 385.59 348.36 386.35 345.85C387.11 343.34 387.41 340.78 387.90 338.10C388.43 335.22 388.93 332.11 389.40 329.10C389.87 326.08 390.24 323.63 390.70 320.00C391.38 314.63 392.20 306.49 392.90 300.00C393.57 293.84 394.24 287.92 394.82 282.00C395.39 276.25 395.93 269.92 396.38 265.00C396.72 261.23 396.99 258.67 397.28 255.00C397.63 250.51 397.94 244.82 398.28 240.00C398.58 235.51 398.80 230.80 399.20 227.00C399.52 224.02 399.77 221.36 400.33 219.05C400.77 217.19 402.00 214.12 402.00 214.12C402.00 214.12 402.92 217.16 403.28 219.00C403.73 221.33 403.98 224.01 404.30 227.00C404.70 230.81 405.07 235.51 405.40 240.00C405.75 244.82 405.97 250.51 406.32 255.00C406.62 258.67 406.98 261.22 407.30 265.00C407.72 269.92 408.15 276.25 408.55 282.00C408.96 287.91 409.33 294.27 409.73 300.00C410.08 305.23 410.34 310.11 410.80 315.00C411.25 319.70 411.83 324.21 412.43 328.80C413.02 333.38 413.57 338.22 414.35 342.50C415.04 346.32 415.70 350.23 416.75 353.27C417.58 355.67 418.49 357.79 419.70 359.43C420.70 360.78 421.79 361.92 423.18 362.62C424.62 363.36 426.03 363.36 428.25 363.62C432.40 364.12 439.59 364.21 446.25 364.40C454.57 364.64 464.95 364.67 474.30 364.80" stroke="#1f1fe6" stroke-width="1.8" fill="none" stroke-linejoin="round" stroke-linecap="round"/><path d="M340.90 365.60C343.93 365.45 346.90 365.40 350.00 365.15C353.26 364.89 356.86 364.49 360.00 364.05C362.82 363.66 365.63 363.12 368.00 362.70C369.89 362.36 371.46 362.25 373.10 361.75C374.74 361.25 376.42 360.50 377.85 359.70C379.15 358.98 380.27 358.23 381.35 357.25C382.50 356.21 383.55 355.11 384.50 353.60C385.73 351.66 386.87 348.85 387.70 346.30C388.55 343.69 388.94 340.90 389.50 338.10C390.08 335.18 390.62 332.11 391.10 329.10C391.58 326.08 391.92 323.63 392.40 320.00C393.11 314.63 394.08 306.49 394.80 300.00C395.49 293.84 396.10 287.92 396.65 282.00C397.18 276.26 397.63 269.92 398.05 265.00C398.38 261.23 398.66 258.67 398.95 255.00C399.30 250.51 399.61 244.82 399.95 240.00C400.26 235.51 400.46 230.64 400.90 227.00C401.22 224.33 401.52 222.10 402.05 220.10C402.47 218.49 403.60 215.85 403.60 215.85C403.60 215.85 404.55 218.42 404.95 220.00C405.46 222.02 405.85 224.30 406.20 227.00C406.68 230.66 406.98 235.51 407.30 240.00C407.64 244.82 407.83 250.51 408.15 255.00C408.41 258.67 408.72 261.23 409.00 265.00C409.37 269.92 409.75 276.25 410.10 282.00C410.46 287.91 410.74 294.28 411.15 300.00C411.52 305.23 411.87 310.11 412.40 315.00C412.91 319.70 413.60 324.21 414.25 328.80C414.90 333.38 415.48 338.25 416.30 342.50C417.03 346.26 417.67 350.12 418.80 353.05C419.68 355.34 420.67 357.31 422.00 358.85C423.18 360.22 424.51 361.33 426.15 362.05C427.98 362.85 430.00 362.85 432.60 363.15C436.53 363.60 441.81 363.77 447.50 364.00C455.13 364.30 465.37 364.40 474.30 364.60" stroke="#1d6f2d" stroke-width="1.8" fill="none" stroke-linejoin="round" stroke-linecap="round"/><path d="M340.90 365.70C343.93 365.56 346.90 365.49 350.00 365.27C353.26 365.04 356.86 364.69 360.00 364.33C362.82 364.00 365.63 363.60 368.00 363.25C369.89 362.97 371.45 362.88 373.10 362.43C374.76 361.97 376.44 361.25 377.93 360.50C379.31 359.80 380.55 359.12 381.77 358.12C383.14 357.02 384.52 355.72 385.65 354.05C387.01 352.06 388.15 349.33 389.05 346.75C389.99 344.03 390.48 341.02 391.10 338.10C391.73 335.14 392.30 332.11 392.80 329.10C393.30 326.08 393.61 323.62 394.10 320.00C394.83 314.63 395.96 306.50 396.70 300.00C397.40 293.85 397.97 287.92 398.48 282.00C398.97 276.26 399.32 269.92 399.72 265.00C400.03 261.23 400.34 258.67 400.62 255.00C400.98 250.51 401.28 244.82 401.62 240.00C401.94 235.51 402.12 230.47 402.60 227.00C402.92 224.65 403.27 222.84 403.77 221.15C404.18 219.79 405.20 217.58 405.20 217.58C405.20 217.58 406.19 219.68 406.62 221.00C407.19 222.70 407.71 224.60 408.10 227.00C408.67 230.49 408.89 235.51 409.20 240.00C409.53 244.82 409.70 250.51 409.98 255.00C410.20 258.67 410.46 261.23 410.70 265.00C411.02 269.92 411.34 276.25 411.65 282.00C411.97 287.91 412.16 294.28 412.57 300.00C412.96 305.23 413.40 310.11 414.00 315.00C414.58 319.70 415.37 324.21 416.07 328.80C416.78 333.38 417.38 338.27 418.25 342.50C419.01 346.20 419.64 350.01 420.85 352.83C421.79 355.02 422.87 356.81 424.30 358.27C425.66 359.66 427.23 360.74 429.12 361.47C431.34 362.33 434.07 362.34 436.95 362.68C440.47 363.08 444.06 363.34 448.75 363.60C455.64 363.98 465.78 364.13 474.30 364.40" stroke="#101010" stroke-width="1.8" fill="none" stroke-linejoin="round" stroke-linecap="round"/><path d="M340.90 365.80C343.93 365.67 346.90 365.59 350.00 365.40C353.26 365.20 356.85 364.88 360.00 364.60C362.82 364.35 365.63 364.08 368.00 363.80C369.89 363.58 371.44 363.51 373.10 363.10C374.77 362.68 376.45 362.00 378.00 361.30C379.48 360.63 380.84 360.01 382.20 359.00C383.78 357.83 385.49 356.31 386.80 354.50C388.28 352.46 389.43 349.82 390.40 347.20C391.44 344.38 392.01 341.13 392.70 338.10C393.38 335.10 393.98 332.12 394.50 329.10C395.02 326.08 395.29 323.62 395.80 320.00C396.56 314.63 397.84 306.50 398.60 300.00C399.32 293.85 399.83 287.92 400.30 282.00C400.76 276.26 401.02 269.92 401.40 265.00C401.69 261.22 402.01 258.67 402.30 255.00C402.65 250.51 402.95 244.82 403.30 240.00C403.62 235.51 403.77 230.26 404.30 227.00C404.63 224.99 405.02 223.58 405.50 222.20C405.88 221.09 406.80 219.30 406.80 219.30C406.80 219.30 407.83 220.94 408.30 222.00C408.92 223.39 409.56 224.91 410.00 227.00C410.69 230.29 410.81 235.51 411.10 240.00C411.42 244.82 411.56 250.51 411.80 255.00C412.00 258.67 412.20 261.23 412.40 265.00C412.66 269.92 412.94 276.25 413.20 282.00C413.47 287.91 413.57 294.28 414.00 300.00C414.40 305.23 414.93 310.11 415.60 315.00C416.24 319.71 417.13 324.21 417.90 328.80C418.67 333.38 419.29 338.30 420.20 342.50C420.99 346.14 421.61 349.90 422.90 352.60C423.90 354.70 425.07 356.32 426.60 357.70C428.14 359.09 429.95 360.15 432.10 360.90C434.70 361.80 438.27 361.81 441.30 362.20C444.24 362.58 446.36 362.92 450.00 363.20C456.06 363.67 466.20 363.87 474.30 364.20" stroke="#ec0f86" stroke-width="2.2" fill="none" stroke-linejoin="round" stroke-linecap="round"/>
<path d="M62.30 553.80C65.90 552.80 69.65 551.73 73.10 550.80C76.26 549.94 79.20 549.43 82.20 548.40C85.27 547.34 88.64 546.09 91.30 544.50C93.70 543.07 95.74 541.30 97.60 539.50C99.35 537.81 100.94 535.97 102.20 534.10C103.37 532.36 104.07 530.78 105.00 528.70C106.20 526.03 107.58 522.90 108.60 519.30C109.89 514.72 110.65 508.94 111.60 503.30C112.66 497.01 113.53 489.05 114.60 483.30C115.42 478.89 116.38 475.25 117.20 471.70C117.90 468.67 118.60 466.10 119.20 463.30C119.80 460.53 120.25 457.77 120.80 455.00C121.35 452.23 121.76 449.09 122.50 446.70C123.09 444.79 123.55 442.97 124.60 441.70C125.55 440.54 126.98 439.41 128.30 439.20C129.61 438.99 131.04 439.73 132.50 440.40C134.34 441.24 136.41 442.76 138.30 444.20C140.31 445.74 142.27 447.60 144.20 449.40C146.17 451.23 147.94 453.22 150.00 455.10C152.19 457.09 154.59 459.13 157.00 461.00C159.42 462.87 161.74 464.57 164.50 466.30C167.66 468.28 171.43 470.17 175.00 472.10C178.69 474.10 182.58 476.16 186.30 478.10C189.91 479.99 193.39 481.79 197.00 483.60C200.66 485.43 204.70 487.40 208.10 489.00C210.95 490.34 213.37 491.40 216.00 492.60" stroke="#ee1c25" stroke-width="1.8" fill="none" stroke-linejoin="round" stroke-linecap="round"/><path d="M62.30 553.96C65.90 553.06 69.65 552.08 73.10 551.25C76.26 550.49 79.20 550.06 82.20 549.17C85.26 548.26 88.61 547.17 91.30 545.81C93.67 544.62 95.73 543.19 97.60 541.68C99.33 540.28 100.79 538.74 102.20 537.14C103.60 535.55 104.83 534.11 106.06 532.09C107.61 529.52 109.21 526.25 110.42 522.72C111.87 518.52 112.73 513.53 113.74 508.42C114.90 502.62 115.82 495.51 116.87 489.70C117.79 484.61 118.78 479.68 119.66 475.41C120.38 471.94 121.07 469.03 121.73 465.99C122.34 463.13 122.85 460.35 123.49 457.66C124.09 455.08 124.59 452.29 125.44 450.16C126.14 448.43 126.84 446.80 127.93 445.70C128.91 444.72 130.24 443.85 131.50 443.68C132.75 443.51 134.10 444.10 135.44 444.67C137.06 445.36 138.80 446.58 140.44 447.78C142.23 449.10 143.99 451.20 145.74 452.34C147.17 453.28 148.47 453.41 150.00 454.40C152.13 455.78 154.59 458.43 157.00 460.30C159.42 462.17 161.74 463.87 164.50 465.60C167.66 467.58 171.43 469.47 175.00 471.40C178.69 473.40 182.58 475.46 186.30 477.40C189.91 479.29 193.39 481.09 197.00 482.90C200.66 484.73 204.70 486.70 208.10 488.30C210.95 489.64 213.37 490.70 216.00 491.90" stroke="#1f1fe6" stroke-width="1.8" fill="none" stroke-linejoin="round" stroke-linecap="round"/><path d="M62.30 554.06C65.90 553.22 69.65 552.29 73.10 551.53C76.26 550.83 79.19 550.45 82.20 549.65C85.26 548.83 88.60 547.84 91.30 546.63C93.65 545.58 95.72 544.37 97.60 543.04C99.32 541.82 100.71 540.48 102.20 539.04C103.75 537.54 105.31 536.20 106.72 534.21C108.49 531.70 110.22 528.33 111.56 524.86C113.09 520.91 114.02 516.39 115.08 511.62C116.30 506.12 117.24 499.50 118.29 493.70C119.28 488.22 120.28 482.44 121.20 477.73C121.94 473.99 122.62 470.86 123.31 467.67C123.94 464.75 124.47 461.96 125.17 459.32C125.81 456.87 126.36 454.29 127.28 452.32C128.04 450.70 128.89 449.19 130.01 448.20C131.00 447.32 132.29 446.62 133.50 446.48C134.71 446.34 136.01 446.83 137.28 447.34C138.77 447.93 140.29 448.96 141.78 450.02C143.43 451.20 145.15 453.25 146.70 454.18C147.85 454.88 148.76 454.76 150.00 455.50C151.98 456.69 154.59 459.53 157.00 461.40C159.42 463.27 161.74 464.97 164.50 466.70C167.66 468.68 171.43 470.57 175.00 472.50C178.69 474.50 182.58 476.56 186.30 478.50C189.91 480.39 193.39 482.19 197.00 484.00C200.66 485.83 204.70 487.80 208.10 489.40C210.95 490.74 213.37 491.80 216.00 493.00" stroke="#1d6f2d" stroke-width="1.8" fill="none" stroke-linejoin="round" stroke-linecap="round"/><path d="M62.30 554.22C65.90 553.48 69.65 552.64 73.10 551.99C76.26 551.39 79.18 551.10 82.20 550.44C85.25 549.77 88.57 548.93 91.30 547.99C93.62 547.18 95.71 546.31 97.60 545.28C99.30 544.35 100.61 543.34 102.20 542.18C104.00 540.85 106.09 539.66 107.80 537.71C109.92 535.31 111.89 531.76 113.44 528.39C115.09 524.85 116.17 521.12 117.30 516.90C118.63 511.91 119.59 506.01 120.64 500.30C121.74 494.25 122.76 486.99 123.75 481.56C124.50 477.37 125.16 473.88 125.91 470.44C126.57 467.44 127.14 464.61 127.94 462.06C128.64 459.81 129.29 457.58 130.32 455.88C131.19 454.44 132.27 453.13 133.44 452.32C134.46 451.63 135.65 451.20 136.80 451.10C137.95 451.00 139.17 451.34 140.32 451.75C141.57 452.18 142.76 452.90 144.00 453.72C145.41 454.67 147.14 457.08 148.28 457.22C148.95 457.30 149.27 456.31 150.00 456.40C151.59 456.60 154.59 460.43 157.00 462.30C159.42 464.17 161.74 465.87 164.50 467.60C167.66 469.58 171.43 471.47 175.00 473.40C178.69 475.40 182.57 477.49 186.30 479.40C189.90 481.25 193.38 482.99 197.00 484.70C200.65 486.43 204.70 488.25 208.10 489.70C210.94 490.92 213.37 491.83 216.00 492.90" stroke="#101010" stroke-width="1.8" fill="none" stroke-linejoin="round" stroke-linecap="round"/><path d="M62.30 554.30C65.90 553.60 69.65 552.80 73.10 552.20C76.26 551.65 79.18 551.40 82.20 550.80C85.25 550.20 88.57 549.43 91.30 548.60C93.61 547.90 95.70 547.19 97.60 546.30C99.29 545.50 100.58 544.64 102.20 543.60C104.11 542.37 106.44 541.23 108.30 539.30C110.56 536.94 112.64 533.30 114.30 530.00C115.99 526.64 117.14 523.27 118.30 519.30C119.69 514.55 120.65 508.94 121.70 503.30C122.87 497.02 123.89 489.06 124.90 483.30C125.67 478.90 126.32 475.25 127.10 471.70C127.77 468.66 128.35 465.81 129.20 463.30C129.92 461.16 130.63 459.08 131.70 457.50C132.62 456.14 133.80 454.92 135.00 454.20C136.03 453.58 137.18 453.27 138.30 453.20C139.42 453.13 140.60 453.40 141.70 453.75C142.84 454.12 143.89 454.69 145.00 455.40C146.31 456.24 147.73 457.62 149.00 458.60C150.12 459.47 150.97 460.11 152.20 461.00C153.84 462.18 155.98 463.73 158.00 465.00C160.08 466.30 162.06 467.36 164.50 468.70C167.57 470.39 171.42 472.45 175.00 474.30C178.69 476.21 182.58 478.14 186.30 480.00C189.91 481.81 193.38 483.59 197.00 485.30C200.65 487.03 204.70 488.85 208.10 490.30C210.94 491.52 213.37 492.43 216.00 493.50" stroke="#ec0f86" stroke-width="2.2" fill="none" stroke-linejoin="round" stroke-linecap="round"/>
<path d="M341.40 569.40C346.07 568.93 351.64 568.80 355.40 568.00C358.05 567.43 359.89 566.73 362.00 565.80C364.12 564.87 366.30 563.45 368.10 562.40C369.56 561.55 370.83 560.92 372.00 560.00C373.12 559.11 374.12 558.17 375.00 557.00C375.97 555.71 376.72 554.17 377.50 552.50C378.41 550.56 379.25 548.43 380.00 546.00C380.92 543.05 381.78 538.92 382.40 536.00C382.88 533.75 383.16 532.08 383.50 530.00C383.87 527.76 384.17 525.88 384.50 523.00C385.02 518.40 385.52 510.82 386.00 505.00C386.45 499.51 386.91 494.16 387.30 489.00C387.67 484.18 387.97 479.75 388.30 475.00C388.64 470.09 388.85 464.72 389.30 460.00C389.70 455.77 390.27 452.00 390.80 448.00C391.33 444.00 391.87 439.38 392.50 436.00C392.97 433.49 393.38 431.08 394.00 429.50C394.39 428.50 394.87 427.20 395.30 427.20C395.73 427.20 396.25 428.50 396.60 429.50C397.15 431.08 397.30 433.50 397.60 436.00C398.00 439.39 398.15 444.01 398.60 448.00C399.05 452.01 399.83 455.77 400.30 460.00C400.82 464.71 400.99 470.09 401.50 475.00C402.00 479.75 402.81 484.17 403.30 489.00C403.82 494.15 404.02 499.51 404.50 505.00C405.01 510.83 405.65 517.04 406.30 523.00C406.95 528.90 407.37 535.65 408.40 540.60C409.18 544.32 410.11 547.53 411.30 550.20C412.23 552.30 413.28 554.06 414.50 555.50C415.55 556.74 416.50 557.61 418.00 558.50C420.04 559.71 423.25 560.82 426.00 561.50C428.75 562.18 431.24 562.26 434.50 562.60C438.89 563.05 444.51 563.31 450.00 563.80C456.25 564.35 462.85 565.17 470.00 565.80C478.23 566.52 487.73 567.13 496.60 567.80" stroke="#ee1c25" stroke-width="1.8" fill="none" stroke-linejoin="round" stroke-linecap="round"/><path d="M341.40 569.50C346.07 569.05 351.63 568.89 355.40 568.15C358.04 567.63 359.88 567.00 362.00 566.17C364.11 565.35 366.30 564.12 368.10 563.20C369.55 562.46 370.78 561.96 372.00 561.12C373.25 560.27 374.47 559.31 375.50 558.12C376.61 556.84 377.50 555.27 378.38 553.62C379.35 551.80 380.19 549.84 381.00 547.62C381.96 545.01 382.91 541.63 383.60 538.88C384.21 536.46 384.58 534.36 385.02 532.00C385.49 529.50 385.93 527.31 386.32 524.25C386.90 519.83 387.34 513.35 387.82 508.00C388.30 502.77 388.80 497.54 389.23 492.50C389.63 487.72 389.98 483.23 390.35 478.50C390.73 473.65 391.01 468.43 391.48 463.75C391.90 459.47 392.41 455.56 392.95 451.50C393.48 447.48 394.07 442.97 394.68 439.50C395.15 436.81 395.54 434.27 396.15 432.38C396.58 431.05 397.08 429.14 397.60 429.10C398.06 429.07 398.69 430.41 399.08 431.43C399.66 432.97 399.80 435.36 400.10 437.75C400.49 440.85 400.66 444.86 401.08 448.50C401.50 452.27 402.17 455.91 402.62 460.00C403.14 464.66 403.43 470.09 403.95 475.00C404.46 479.75 405.20 484.17 405.70 489.00C406.23 494.15 406.50 499.57 407.00 505.00C407.52 510.64 408.08 516.42 408.77 522.25C409.50 528.28 410.11 535.51 411.27 540.60C412.14 544.36 413.16 547.63 414.40 550.20C415.32 552.13 416.33 553.64 417.50 554.92C418.52 556.05 419.46 556.80 420.88 557.62C422.80 558.74 425.70 559.87 428.25 560.58C430.84 561.29 433.25 561.47 436.32 561.88C440.38 562.41 445.40 562.78 450.50 563.30C456.48 563.91 462.99 564.69 470.00 565.30C478.17 566.01 487.73 566.58 496.60 567.22" stroke="#1f1fe6" stroke-width="1.8" fill="none" stroke-linejoin="round" stroke-linecap="round"/><path d="M341.40 569.60C346.07 569.17 351.62 568.97 355.40 568.30C358.03 567.83 359.87 567.27 362.00 566.55C364.10 565.84 366.30 564.78 368.10 564.00C369.55 563.37 370.73 563.00 372.00 562.25C373.37 561.44 374.82 560.46 376.00 559.25C377.25 557.98 378.27 556.37 379.25 554.75C380.28 553.05 381.13 551.25 382.00 549.25C382.99 546.97 384.04 544.30 384.80 541.75C385.56 539.21 386.00 536.65 386.55 534.00C387.12 531.24 387.68 528.72 388.15 525.50C388.76 521.32 389.15 515.87 389.65 511.00C390.15 506.04 390.68 500.91 391.15 496.00C391.60 491.25 391.99 486.71 392.40 482.00C392.82 477.21 393.18 472.15 393.65 467.50C394.09 463.18 394.56 459.12 395.10 455.00C395.63 450.96 396.26 446.56 396.85 443.00C397.33 440.13 397.69 437.43 398.30 435.25C398.76 433.60 399.28 431.08 399.90 431.00C400.39 430.94 401.13 432.32 401.55 433.35C402.17 434.87 402.29 437.22 402.60 439.50C402.98 442.32 403.18 445.72 403.55 449.00C403.95 452.53 404.51 456.05 404.95 460.00C405.47 464.61 405.86 470.09 406.40 475.00C406.92 479.75 407.60 484.17 408.10 489.00C408.64 494.15 408.98 499.63 409.50 505.00C410.03 510.46 410.52 515.81 411.25 521.50C412.04 527.64 412.85 535.37 414.15 540.60C415.09 544.40 416.21 547.73 417.50 550.20C418.41 551.95 419.38 553.22 420.50 554.35C421.49 555.35 422.42 555.99 423.75 556.75C425.55 557.78 428.14 558.92 430.50 559.65C432.93 560.40 435.26 560.68 438.15 561.15C441.87 561.75 446.30 562.25 451.00 562.80C456.71 563.47 463.13 564.20 470.00 564.80C478.12 565.51 487.73 566.03 496.60 566.65" stroke="#1d6f2d" stroke-width="1.8" fill="none" stroke-linejoin="round" stroke-linecap="round"/><path d="M341.40 569.70C346.07 569.28 351.62 569.05 355.40 568.45C358.03 568.03 359.86 567.54 362.00 566.92C364.09 566.32 366.30 565.44 368.10 564.80C369.55 564.28 370.69 564.04 372.00 563.38C373.49 562.62 375.16 561.60 376.50 560.38C377.88 559.11 379.04 557.46 380.12 555.88C381.21 554.29 382.06 552.65 383.00 550.88C384.03 548.93 385.18 546.92 386.00 544.62C386.92 542.03 387.42 538.93 388.08 536.00C388.75 532.98 389.44 530.09 389.98 526.75C390.60 522.85 390.97 518.39 391.48 514.00C392.01 509.32 392.58 504.29 393.07 499.50C393.57 494.79 393.99 490.19 394.45 485.50C394.91 480.77 395.34 475.87 395.82 471.25C396.28 466.88 396.71 462.68 397.25 458.50C397.78 454.43 398.45 450.14 399.02 446.50C399.51 443.46 399.84 440.57 400.45 438.12C400.94 436.16 401.48 433.02 402.20 432.90C402.73 432.81 403.56 434.23 404.02 435.27C404.68 436.76 404.79 439.09 405.10 441.25C405.47 443.77 405.69 446.59 406.02 449.50C406.41 452.79 406.85 456.19 407.28 460.00C407.79 464.55 408.30 470.09 408.85 475.00C409.38 479.75 409.99 484.17 410.50 489.00C411.05 494.15 411.46 499.69 412.00 505.00C412.54 510.27 412.96 515.21 413.73 520.75C414.59 527.00 415.59 535.23 417.02 540.60C418.05 544.43 419.26 547.85 420.60 550.20C421.50 551.77 422.44 552.80 423.50 553.78C424.46 554.65 425.38 555.17 426.62 555.88C428.30 556.82 430.58 557.97 432.75 558.72C435.02 559.51 437.28 559.89 439.98 560.43C443.36 561.10 447.20 561.72 451.50 562.30C456.93 563.03 463.27 563.71 470.00 564.30C478.06 565.00 487.73 565.48 496.60 566.08" stroke="#101010" stroke-width="1.8" fill="none" stroke-linejoin="round" stroke-linecap="round"/><path d="M341.40 569.80C346.07 569.40 351.61 569.13 355.40 568.60C358.02 568.23 359.85 567.81 362.00 567.30C364.08 566.81 366.29 566.11 368.10 565.60C369.55 565.19 370.66 565.08 372.00 564.50C373.61 563.81 375.51 562.74 377.00 561.50C378.51 560.24 379.81 558.54 381.00 557.00C382.13 555.54 382.99 554.04 384.00 552.50C385.06 550.88 386.33 549.52 387.20 547.50C388.32 544.91 388.84 541.21 389.60 538.00C390.38 534.72 391.19 531.43 391.80 528.00C392.43 524.43 392.80 520.89 393.30 517.00C393.87 512.62 394.47 507.67 395.00 503.00C395.53 498.34 396.00 493.67 396.50 489.00C397.00 484.33 397.51 479.58 398.00 475.00C398.47 470.59 398.85 466.24 399.40 462.00C399.93 457.91 400.63 453.71 401.20 450.00C401.69 446.78 401.98 443.70 402.60 441.00C403.12 438.72 403.67 434.97 404.50 434.80C405.07 434.68 406.00 436.14 406.50 437.20C407.18 438.65 407.28 440.97 407.60 443.00C407.95 445.22 408.20 447.46 408.50 450.00C408.86 453.04 409.19 456.33 409.60 460.00C410.10 464.50 410.74 470.09 411.30 475.00C411.84 479.75 412.38 484.18 412.90 489.00C413.45 494.15 413.94 499.75 414.50 505.00C415.04 510.08 415.41 514.62 416.20 520.00C417.13 526.34 418.33 535.09 419.90 540.60C421.00 544.47 422.30 547.99 423.70 550.20C424.58 551.59 425.49 552.38 426.50 553.20C427.43 553.96 428.34 554.36 429.50 555.00C431.05 555.86 433.03 557.03 435.00 557.80C437.11 558.62 439.29 559.09 441.80 559.70C444.85 560.44 448.10 561.18 452.00 561.80C457.14 562.61 463.41 563.22 470.00 563.80C478.00 564.50 487.73 564.93 496.60 565.50" stroke="#ec0f86" stroke-width="2.2" fill="none" stroke-linejoin="round" stroke-linecap="round"/>
<path d="M163.5 35.2L157.4 29.1L154.4 34.4Z" fill="#000"/>
<path d="M438.9 34.8L433.7 41.0L439.3 42.6Z" fill="#000"/>
<path d="M411.4 145.8L404.1 141.2L407.2 138.1Z" fill="#000"/>
<path d="M147.5 290.0L138.5 287.0L142.1 283.0Z" fill="#000"/>
<path d="M421.9 267.9L413.7 265.5L417.3 260.9Z" fill="#000"/>
<path d="M144.5 477.2L135.9 474.4L140.2 470.1Z" fill="#000"/>
<path d="M424.7 476.7L415.0 475.1L417.7 470.9Z" fill="#000"/>
</svg>
</body></html>
